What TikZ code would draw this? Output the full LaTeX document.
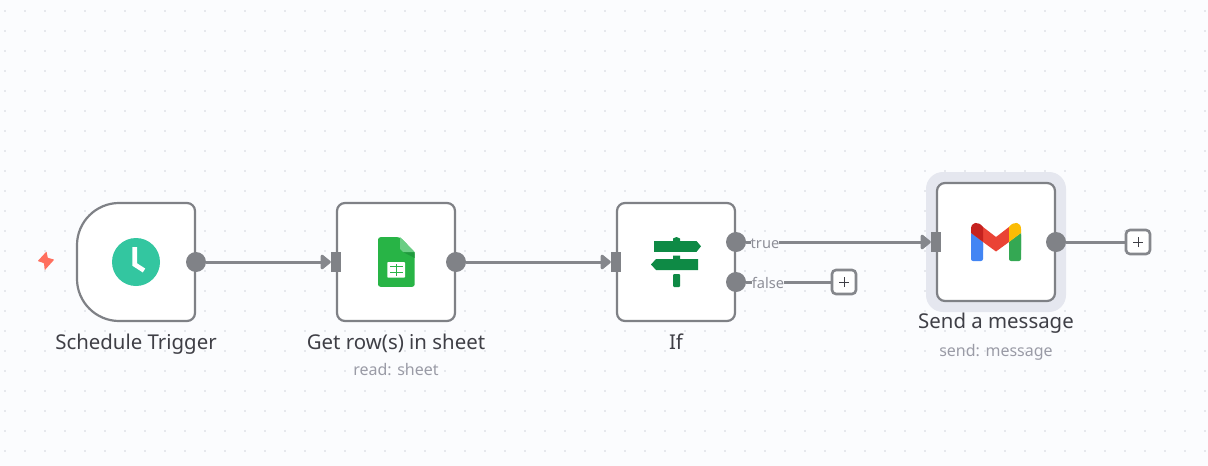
\documentclass[tikz,border=0pt]{standalone}
\usepackage{fontspec}
\setmainfont{Noto Sans}
\usetikzlibrary{arrows.meta}
\definecolor{bgc}{HTML}{FBFCFE}
\definecolor{dotc}{HTML}{D2D4DC}
\definecolor{edgec}{HTML}{7F8186}
\definecolor{linec}{HTML}{85878C}
\definecolor{portc}{HTML}{808287}
\definecolor{titlec}{HTML}{3F3F46}
\definecolor{subc}{HTML}{9A9BA6}
\definecolor{labc}{HTML}{8E8F98}
\definecolor{halo}{HTML}{E5E7EF}
\definecolor{teal}{HTML}{33C6A0}
\definecolor{bolt}{HTML}{FF6F5E}
\definecolor{sheetg}{HTML}{28B446}
\definecolor{sheetl}{HTML}{6ACE84}
\definecolor{sheetd}{HTML}{1F9A3D}
\definecolor{signg}{HTML}{0E8A45}
\definecolor{gblue}{HTML}{4285F4}
\definecolor{ggreen}{HTML}{34A853}
\definecolor{gred}{HTML}{EA4335}
\definecolor{gdark}{HTML}{C5221F}
\definecolor{gyellow}{HTML}{FBBC04}
\tikzset{
  nodebox/.style={draw=edgec,line width=2.2pt,fill=white,rounded corners=8pt,minimum size=118pt,inner sep=0pt},
  outport/.style={circle,fill=portc,minimum size=20pt,inner sep=0pt},
  inport/.style={rectangle,fill=portc,minimum width=10pt,minimum height=20pt,inner sep=0pt},
  addbox/.style={draw=linec,line width=2.6pt,fill=white,rounded corners=4pt,minimum size=24pt,inner sep=0pt},
  conn/.style={draw=linec,line width=3pt},
  flow/.style={conn,-{Triangle[length=11pt,width=17pt,round]}},
  title/.style={anchor=base,text=titlec,font=\fontsize{20.4}{24}\selectfont},
  subtitle/.style={anchor=base,text=subc,font=\fontsize{16}{19}\selectfont},
  branch/.style={anchor=base,text=labc,fill=bgc,inner xsep=0pt,inner ysep=1pt,font=\fontsize{14.6}{18}\selectfont},
  crossline/.style={draw=titlec,line width=.9pt}
}
\begin{document}
\begin{tikzpicture}[x=1pt,y=-1pt]
\useasboundingbox (0,0) rectangle (1208,466);
\fill[bgc] (0,0) rectangle (1208,466);
\foreach \i in {0,...,60}{\foreach \j in {0,...,22}{
  \fill[dotc] ({5+20*\i},{11+20*\j}) circle (0.8pt);
}}
% halo
\fill[halo,rounded corners=17pt] (926,172) rectangle (1066,312);
% schedule trigger
\draw[draw=edgec,line width=2.2pt,fill=white] (119,203) .. controls (96,203) and (77,222) .. (77,245) -- (77,279) .. controls (77,302) and (96,321) .. (119,321) -- (187,321) .. controls (191.4,321) and (195,317.4) .. (195,313) -- (195,211) .. controls (195,206.6) and (191.4,203) .. (187,203) -- cycle;
\node[outport] (schedOut) at (196,262) {};
\fill[bolt,rounded corners=.5pt] (46.5,251.5) -- (37.8,261) -- (44,263.2) -- (44.7,270.2) -- (54.2,259.6) -- (47.8,257.8) -- cycle;
\fill[teal] (136,262) circle (24pt);
\draw[white,line width=4.6pt,line cap=butt,line join=miter] (134.7,247) -- (134.7,264.5) -- (144,270.5);
\node[title] (schedLab) at (136,349) {Schedule Trigger};
% sheet
\node[nodebox] (sheet) at (396,262) {};
\node[inport] (sheetIn) at (336,262) {};
\node[outport] (sheetOut) at (456,262) {};
\fill[sheetg,rounded corners=2.5pt] (378,237.2) -- (400,237.2) -- (414.7,252) -- (414.7,286.8) -- (378,286.8) -- cycle;
\fill[sheetd] (403,252) -- (414.7,252) -- (414.7,258) -- cycle;
\fill[sheetl] (400,237.2) -- (414.7,252) -- (403,252) -- (400,249) -- cycle;
\fill[white,rounded corners=.8pt] (387.3,262) rectangle (405,277.7);
\fill[sheetg] (395.5,264) rectangle (397,276);
\fill[sheetg] (389.5,266.2) rectangle (402.8,267.4);
\fill[sheetg] (389.5,271.8) rectangle (402.8,273);
\node[title] (sheetLab) at (396,349) {Get row(s) in sheet};
\node[subtitle] (sheetSub) at (396,375.5) {read: sheet};
% if
\node[nodebox] (iff) at (676,262) {};
\node[inport] (iffIn) at (616,262) {};
\node[outport] (iffTrue) at (736,242) {};
\node[outport] (iffFalse) at (736,282) {};
\fill[signg] (673,241) -- (673,238.5) -- (676.5,237) -- (680,238.5) -- (680,241) -- (696.5,241) -- (701,246.3) -- (696.5,251.8) -- (654,251.8) -- (654,241) -- cycle;
\fill[signg] (673,259) -- (673,255.5) -- (680,255.5) -- (680,259) -- (698,259) -- (698,270) -- (656,270) -- (651,264.5) -- (656,259) -- cycle;
\fill[signg,rounded corners=1pt] (673,274) rectangle (680,287);
\node[title] (iffLab) at (676,349) {If};
% gmail
\node[nodebox] (mail) at (996,242) {};
\node[inport] (mailIn) at (936,242) {};
\node[outport] (mailOut) at (1056,242) {};
\fill[gblue,rounded corners=2pt] (971,233) -- (983,242) -- (983,261) -- (971,261) -- cycle;
\fill[gblue] (971,233) -- (983,242) -- (983,250) -- (971,250) -- cycle;
\fill[ggreen,rounded corners=2pt] (1021,233) -- (1009,242) -- (1009,261) -- (1021,261) -- cycle;
\fill[ggreen] (1021,233) -- (1009,242) -- (1009,250) -- (1021,250) -- cycle;
\fill[gred] (983,227) -- (996,237) -- (1009,227) -- (1009,242) -- (996,251.5) -- (983,242) -- cycle;
\fill[gdark] (971,233) -- (971,229) .. controls (971,222) and (978,220.5) .. (983,227) -- (983,242) -- cycle;
\fill[gyellow] (1021,233) -- (1021,229) .. controls (1021,222) and (1014,220.5) .. (1009,227) -- (1009,242) -- cycle;
\node[title] (mailLab) at (996,328) {Send a message};
\node[subtitle] (mailSub) at (996,356) {send: message};
% add buttons
\node[addbox] (addFalse) at (844,282) {};
\node[addbox] (addMail) at (1138,242) {};
\foreach \n in {addFalse,addMail}{
  \draw[crossline] ([xshift=-5pt]\n.center) -- ([xshift=5pt]\n.center);
  \draw[crossline] ([yshift=-5pt]\n.center) -- ([yshift=5pt]\n.center);
}
% connectors
\draw[flow] (schedOut.east) -- (sheetIn.west);
\draw[flow] (sheetOut.east) -- (iffIn.west);
\draw[flow] (iffTrue.east) -- (mailIn.west);
\draw[conn] (iffFalse.east) -- (addFalse.west);
\draw[conn] (mailOut.east) -- (addMail.west);
\node[branch] (trueLab) at (765,248) {true};
\node[branch] (falseLab) at (768,288) {false};
\end{tikzpicture}
\end{document}
